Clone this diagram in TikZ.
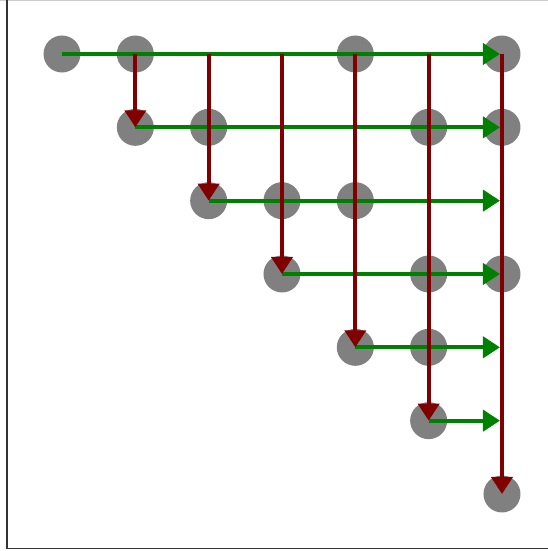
\documentclass[tikz,border=0pt]{standalone}
\usetikzlibrary{arrows.meta}
\definecolor{dotgray}{RGB}{128,128,128}
\definecolor{rowgreen}{RGB}{0,128,0}
\definecolor{colred}{RGB}{128,0,0}
\tikzset{
  dotnode/.style={circle,fill=dotgray,minimum size=37pt,inner sep=0pt},
  rowarrow/.style={draw=rowgreen,line width=4pt,shorten >=2pt,
    -{Triangle[length=17pt,width=21pt]}},
  colarrow/.style={draw=colred,line width=4pt,
    -{Triangle[length=17pt,width=21pt]}},
}
\begin{document}
\begin{tikzpicture}[x=1pt,y=-1pt]
\useasboundingbox (0,0) rectangle (548,551);
% frame
\draw[black!20,line width=1pt] (0,0.5) -- (548,0.5);
\draw[black!80,line width=1.5pt] (7,0) -- (7,548.5) -- (548,548.5);
% grid positions
\foreach \r in {0,...,6}{
  \foreach \c in {0,...,6}{
    \coordinate (g\r\c) at ({62+73.33*\c},{54+73.33*\r});
  }
}
% dots
\foreach \p in {00,01,04,06,11,12,15,16,22,23,24,33,35,36,44,45,55,66}{
  \node[dotnode] (n\p) at (g\p) {};
}
% row arrows
\draw[rowarrow] (n00.center) -- (n06.center);
\draw[rowarrow] (n11.center) -- (n16.center);
\draw[rowarrow] (n22.center) -- (g26);
\draw[rowarrow] (n33.center) -- (n36.center);
\draw[rowarrow] (n44.center) -- (g46);
\draw[rowarrow] (n55.center) -- (g56);
% column arrows
\draw[colarrow] (n01.center) -- (n11.center);
\draw[colarrow] (g02) -- (n22.center);
\draw[colarrow] (g03) -- (n33.center);
\draw[colarrow] (n04.center) -- (n44.center);
\draw[colarrow] (g05) -- (n55.center);
\draw[colarrow] (n06.center) -- (n66.center);
\end{tikzpicture}
\end{document}
